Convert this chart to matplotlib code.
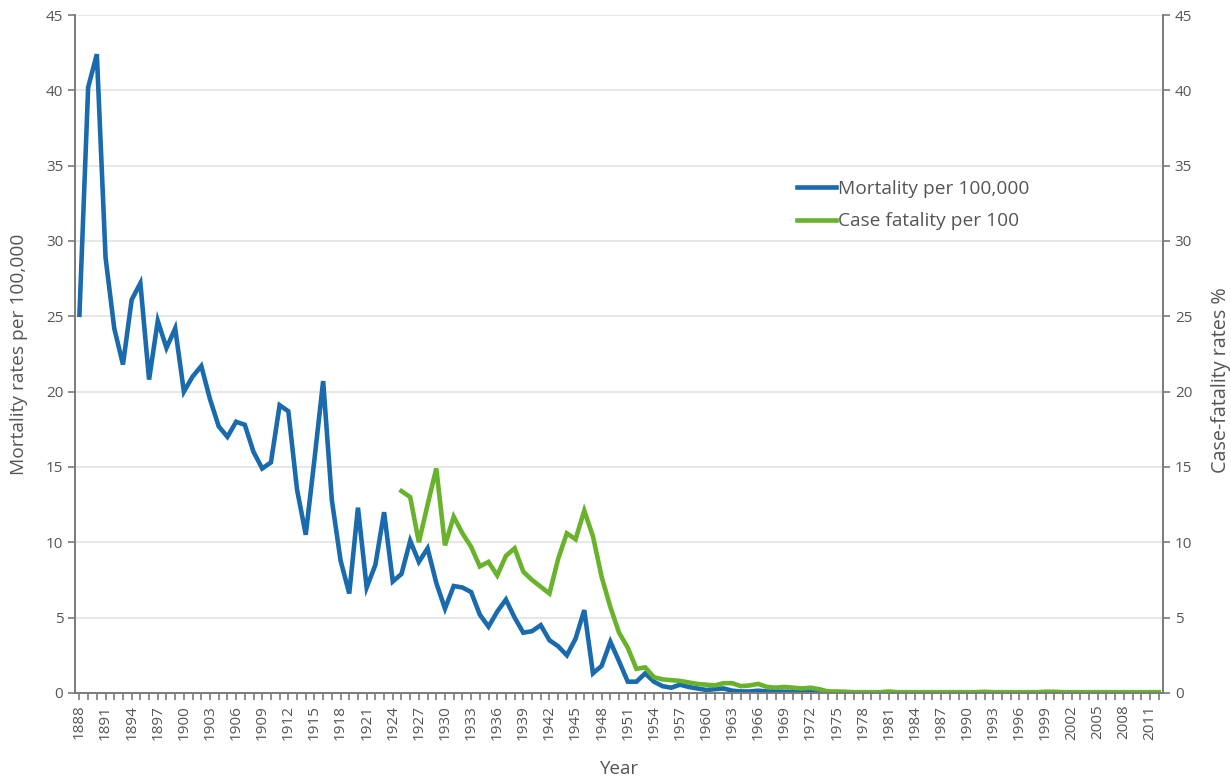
import matplotlib.pyplot as plt
import numpy as np

plt.rcParams['font.family'] = ['Open Sans', 'DejaVu Sans']

# Years 1888 - 2012
years = np.arange(1888, 2013)

# Mortality per 100,000
mortality = [
    25.1, 40.2, 42.4, 28.9, 24.2, 21.8, 26.1, 27.2, 20.8, 24.7,   # 1888-1897
    22.9, 24.2, 20.0, 21.0, 21.7, 19.5, 17.7, 17.0, 18.0, 17.8,   # 1898-1907
    16.0, 14.9, 15.3, 19.1, 18.7, 13.5, 10.5, 15.5, 20.7, 12.8,   # 1908-1917
    8.8, 6.6, 12.3, 7.0, 8.5, 12.0, 7.4, 7.9, 10.1, 8.7,          # 1918-1927
    9.6, 7.3, 5.6, 7.1, 7.0, 6.7, 5.2, 4.4, 5.4, 6.2,             # 1928-1937
    5.0, 4.0, 4.1, 4.5, 3.5, 3.1, 2.5, 3.6, 5.5, 1.3,             # 1938-1947
    1.8, 3.4, 2.1, 0.75, 0.75, 1.3, 0.75, 0.45, 0.35, 0.55,       # 1948-1957
    0.4, 0.3, 0.2, 0.25, 0.3, 0.15, 0.1, 0.1, 0.15, 0.1,          # 1958-1967
    0.1, 0.08, 0.08, 0.06, 0.06, 0.05, 0.04, 0.03, 0.03, 0.02,    # 1968-1977
    0.02, 0.02, 0.02, 0.03, 0.02, 0.02, 0.02, 0.02, 0.02, 0.02,   # 1978-1987
    0.02, 0.02, 0.02, 0.02, 0.02, 0.02, 0.02, 0.02, 0.02, 0.02,   # 1988-1997
    0.02, 0.02, 0.02, 0.02, 0.02, 0.02, 0.02, 0.02, 0.02, 0.02,   # 1998-2007
    0.02, 0.02, 0.02, 0.02, 0.02,                                 # 2008-2012
]

# Case fatality per 100, starts 1925
cf_years = np.arange(1925, 2013)
case_fatality = [
    13.4, 13.0, 10.0, 12.5, 14.9, 9.8, 11.7, 10.6, 9.7, 8.4,      # 1925-1934
    8.7, 7.8, 9.1, 9.6, 8.05, 7.5, 7.05, 6.6, 8.9, 10.6,          # 1935-1944
    10.2, 12.1, 10.4, 7.7, 5.7, 4.0, 3.0, 1.6, 1.7, 1.05,         # 1945-1954
    0.9, 0.85, 0.8, 0.7, 0.6, 0.55, 0.5, 0.65, 0.65, 0.45,        # 1955-1964
    0.5, 0.6, 0.4, 0.35, 0.4, 0.35, 0.3, 0.35, 0.25, 0.1,         # 1965-1974
    0.1, 0.08, 0.05, 0.05, 0.05, 0.05, 0.1, 0.05, 0.05, 0.05,     # 1975-1984
    0.05, 0.05, 0.05, 0.05, 0.05, 0.05, 0.05, 0.08, 0.05, 0.05,   # 1985-1994
    0.05, 0.05, 0.05, 0.05, 0.08, 0.08, 0.05, 0.05, 0.05, 0.05,   # 1995-2004
    0.05, 0.05, 0.05, 0.05, 0.05, 0.05, 0.05, 0.05,               # 2005-2012
]

blue = '#1a6aae'
green = '#68b22c'
grey = '#7a7a7a'
text_c = '#555555'

fig = plt.figure(figsize=(12.31, 7.78), dpi=100)
ax = fig.add_axes([0.061, 0.1093, 0.8838, 0.8714])
ax2 = ax.twinx()

l1, = ax.plot(years, mortality, color=blue, lw=3.3, solid_joinstyle='miter',
              label='Mortality per 100,000')
l2, = ax2.plot(cf_years, case_fatality, color=green, lw=3.3, solid_joinstyle='miter',
               label='Case fatality per 100')

for a in (ax, ax2):
    a.set_ylim(0, 45)
    a.set_yticks(np.arange(0, 46, 5))
    a.set_xlim(1887.5, 2012.5)
    a.spines['top'].set_visible(False)
    for s in ('left', 'right', 'bottom'):
        a.spines[s].set_color(grey)
        a.spines[s].set_linewidth(1.2)
    a.tick_params(axis='y', colors=text_c, labelsize=11, length=5, color=grey, width=1.2)

ax.grid(axis='y', color='#e3e3e3', lw=1.2)
ax.set_axisbelow(True)

ax.set_xticks(years[::3])
ax.set_xticks(years, minor=True)
ax.set_xticklabels([str(y) for y in years[::3]], rotation=90)
ax.tick_params(axis='x', which='both', colors=text_c, labelsize=11, length=5, color=grey, width=1.2)

ax.set_ylabel('Mortality rates per 100,000', color=text_c, fontsize=13.8)
ax.yaxis.set_label_coords(-0.043, 0.5)
ax2.set_ylabel('Case-fatality rates %', color=text_c, fontsize=14.2)
ax2.yaxis.set_label_coords(1.044, 0.462)
ax.set_xlabel('Year', color=text_c, fontsize=13.5)
ax.xaxis.set_label_coords(0.5, -0.099)

leg = ax.legend(handles=[l1, l2], loc='upper left', bbox_to_anchor=(0.648, 0.782),
                frameon=False, fontsize=13.8, handlelength=2.0, handletextpad=0.1,
                labelspacing=0.75, labelcolor=text_c)

fig.savefig('out.png', dpi=100)
